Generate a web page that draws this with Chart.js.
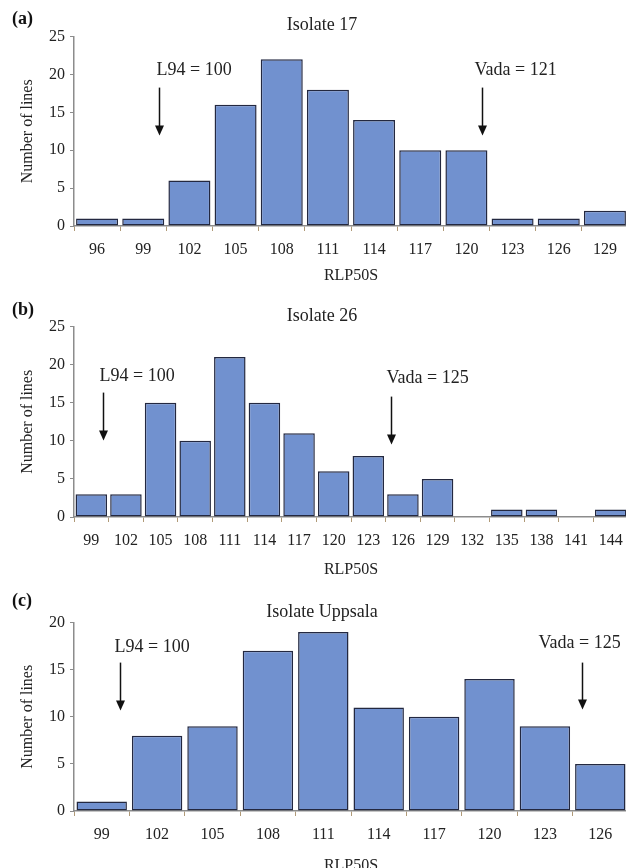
<!DOCTYPE html>
<html>
<head>
<meta charset="utf-8">
<script src="https://cdn.jsdelivr.net/npm/chart.js@4.4.0/dist/chart.umd.min.js"></script>
<style>
html, body { margin: 0; padding: 0; background: #fff; overflow: hidden; width: 626px; height: 868px; }
canvas { position: absolute; left: 0; }
#chartA { top: 0; }
#chartB { top: 290px; }
#chartC { top: 580px; }
</style>
</head>
<body>
<canvas id="chartA" width="634" height="290"></canvas>
<canvas id="chartB" width="634" height="290"></canvas>
<canvas id="chartC" width="634" height="300"></canvas>
<script>
// RLP50S classes and number of lines per class
const catsA = [96, 99, 102, 105, 108, 111, 114, 117, 120, 123, 126, 129];
const countsA = [1, 1, 6, 16, 22, 18, 14, 10, 10, 1, 1, 2];
const marksA = [100, 121];

const catsB = [99, 102, 105, 108, 111, 114, 117, 120, 123, 126, 129, 132, 135, 138, 141, 144];
const countsB = [3, 3, 15, 10, 21, 15, 11, 6, 8, 3, 5, 0, 1, 1, 0, 1];
const marksB = [100, 125];

const catsC = [99, 102, 105, 108, 111, 114, 117, 120, 123, 126];
const countsC = [1, 8, 9, 17, 19, 11, 10, 14, 9, 5];
const marksC = [100, 125];

const markNames = ['L94', 'Vada'];

const serif = "'Liberation Serif', 'Times New Roman', serif";
const barFill = 'rgb(113,145,207)';
const barEdge = '#232840';

// panel letter, arrows and their labels
const markerPlugin = {
    id: 'markers',
    afterDraw(chart, args, opts) {
        const ctx = chart.ctx;
        const xs = chart.scales.x;
        const top = chart.chartArea.top;
        ctx.save();
        ctx.fillStyle = '#111';
        ctx.textBaseline = 'middle';
        ctx.font = 'bold 18px ' + serif;
        ctx.fillText(opts.panel, 12, opts.panelY);
        ctx.font = '18px ' + serif;
        opts.items.forEach(function (m) {
            const px = Math.round(xs.getPixelForValue((m.value - opts.first) / opts.step)) + 0.5;
            ctx.fillStyle = '#222';
            ctx.fillText(m.name + ' = ' + m.value, px + m.dx, top + m.textY);
            ctx.strokeStyle = '#111';
            ctx.lineWidth = 1.5;
            ctx.beginPath();
            ctx.moveTo(px, top + m.y0);
            ctx.lineTo(px, top + m.y1 - 8);
            ctx.stroke();
            ctx.fillStyle = '#111';
            ctx.beginPath();
            ctx.moveTo(px - 4.5, top + m.y1 - 10);
            ctx.lineTo(px + 4.5, top + m.y1 - 10);
            ctx.lineTo(px, top + m.y1);
            ctx.closePath();
            ctx.fill();
        });
        ctx.restore();
    }
};

function makeChart(id, cats, counts, marks, cfg) {
    const ctx = document.getElementById(id).getContext('2d');
    const items = marks.map(function (v, i) {
        return Object.assign({ value: v, name: markNames[i] }, cfg.markLayout[i]);
    });
    return new Chart(ctx, {
        type: 'bar',
        data: {
            labels: cats.map(String),
            datasets: [{
                data: counts,
                backgroundColor: barFill,
                borderColor: barEdge,
                borderWidth: 1.5,
                borderSkipped: false,
                barPercentage: 1,
                categoryPercentage: 0.91
            }]
        },
        plugins: [markerPlugin],
        options: {
            responsive: false,
            animation: false,
            layout: { padding: { left: 16, right: 6, top: 0, bottom: 0 } },
            plugins: {
                legend: { display: false },
                tooltip: { enabled: false },
                title: {
                    display: true,
                    text: cfg.title,
                    color: '#222',
                    font: { family: serif, size: 18, weight: 'normal' },
                    padding: { top: cfg.titleTop, bottom: cfg.titleBottom }
                },
                markers: {
                    panel: cfg.panel,
                    panelY: cfg.panelY,
                    first: cats[0],
                    step: cats[1] - cats[0],
                    items: items
                }
            },
            scales: {
                x: {
                    offset: true,
                    afterFit: function (s) { s.height = cfg.xHeight; },
                    grid: {
                        offset: true,
                        drawOnChartArea: false,
                        tickLength: 5,
                        color: '#b09a78'
                    },
                    border: { color: '#8c8c8c', width: 1.5 },
                    ticks: {
                        color: '#222',
                        padding: 9,
                        maxRotation: 0,
                        autoSkip: false,
                        font: { family: serif, size: 16 }
                    },
                    title: {
                        display: true,
                        text: 'RLP50S',
                        color: '#222',
                        font: { family: serif, size: 16 },
                        padding: { top: 0, bottom: cfg.xTitleBottom }
                    }
                },
                y: {
                    min: 0,
                    max: cfg.yMax,
                    afterFit: function (s) { s.width = 58; },
                    grid: {
                        drawOnChartArea: false,
                        tickLength: 4,
                        color: '#8c8c8c'
                    },
                    border: { color: '#8c8c8c', width: 1.5 },
                    ticks: {
                        stepSize: 5,
                        color: '#222',
                        padding: 5,
                        font: { family: serif, size: 16 }
                    },
                    title: {
                        display: true,
                        text: 'Number of lines',
                        color: '#222',
                        font: { family: serif, size: 16 },
                        padding: { top: 2, bottom: 0 }
                    }
                }
            }
        }
    });
}

makeChart('chartA', catsA, countsA, marksA, {
    panel: '(a)', panelY: 19, title: 'Isolate 17', titleTop: 14, titleBottom: 1,
    yMax: 25, xHeight: 64, xTitleBottom: 5,
    markLayout: [
        { dx: -3, textY: 34, y0: 51, y1: 99 },
        { dx: -8, textY: 34, y0: 51, y1: 99 }
    ]
});

makeChart('chartB', catsB, countsB, marksB, {
    panel: '(b)', panelY: 20, title: 'Isolate 26', titleTop: 15, titleBottom: 0,
    yMax: 25, xHeight: 63, xTitleBottom: 1,
    markLayout: [
        { dx: -4, textY: 50, y0: 66, y1: 114 },
        { dx: -5, textY: 52, y0: 70, y1: 118 }
    ]
});

makeChart('chartC', catsC, countsC, marksC, {
    panel: '(c)', panelY: 21, title: 'Isolate Uppsala', titleTop: 21, titleBottom: 0,
    yMax: 20, xHeight: 69, xTitleBottom: 5,
    markLayout: [
        { dx: -6, textY: 25, y0: 40, y1: 88 },
        { dx: -44, textY: 21, y0: 40, y1: 87 }
    ]
});
</script>
</body>
</html>
